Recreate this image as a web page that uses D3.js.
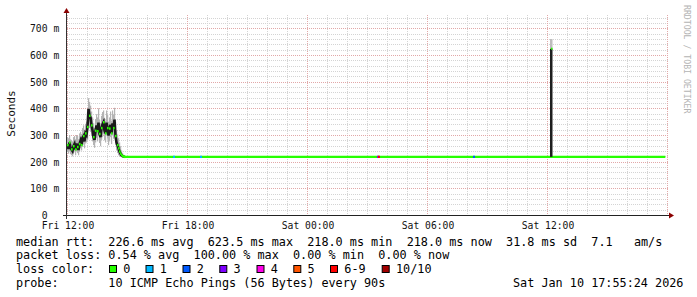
<!DOCTYPE html>
<html><head><meta charset="utf-8">
<script src="https://cdn.jsdelivr.net/npm/d3@7"></script>
<style>
html,body{margin:0;padding:0;background:#fff;}
svg{display:block;}
text{font-family:"DejaVu Sans Mono",monospace;white-space:pre;}
</style></head>
<body>
<svg id="c" width="697" height="297"></svg>
<script>
// ---- data ----
const startLabel = "2026-01-09T12:00";
const endLabel = "2026-01-10T18:00";
const stepMinutes = 3;
// noisy section, one value every 3 minutes from Fri 12:00 (ms)
const rttMedian = [262,248,272,252,246,240,258,266,246,268,255,244,266,278,262,290,296,276,306,300,330,398,372,366,336,318,292,282,316,336,314,346,304,292,326,340,348,316,306,346,326,298,324,338,306,344,326,358,296,272,262,250,238,230,224,221,219,218];
const rttHigh   = [292,288,300,284,280,276,292,296,284,300,296,284,306,312,304,326,336,318,342,350,380,438,424,410,388,366,344,326,360,378,366,400,356,344,372,386,392,362,354,392,376,350,366,388,354,392,376,402,348,318,302,288,272,258,242,232,226,222];
const rttLow    = [236,230,240,228,224,220,232,238,224,238,232,224,238,250,242,256,264,250,268,272,282,338,326,312,296,276,262,252,272,288,276,298,270,258,282,292,302,280,272,298,286,262,276,292,266,298,286,306,262,242,232,224,220,219,218,218,218,218];
// flat section
const flatStart = "2026-01-09T14:51";
const flatEnd = "2026-01-10T17:55";
const flatValue = 218.0;
// spike
const spikeTime = "2026-01-10T12:12";
const spikeMedian = 623.5, spikeLow = 218, spikeHigh = 660;
// loss events on the flat line
const lossTimes = ["2026-01-09T17:21","2026-01-09T18:42","2026-01-10T03:33","2026-01-10T03:36","2026-01-10T08:21"];
const lossCounts = [1,1,3,6,2];
// legend
const lossLabels = ["0","1","2","3","4","5","6-9","10/10"];
const lossColors = ["#26ff00","#00b8ff","#0059ff","#7e00ff","#ff00ea","#ff5500","#ff0000","#a10000"];
const yTicks = [0,100,200,300,400,500,600,700];
const xTickLabels = ["Fri 12:00","Fri 18:00","Sat 00:00","Sat 06:00","Sat 12:00"];
const legendLines = [
 "median rtt:  226.6 ms avg  623.5 ms max  218.0 ms min  218.0 ms now  31.8 ms sd  7.1   am/s",
 "packet loss: 0.54 % avg  100.00 % max  0.00 % min  0.00 % now",
 "loss color:",
 "probe:       10 ICMP Echo Pings (56 Bytes) every 90s"
];
const dateStamp = "Sat Jan 10 17:55:24 2026";

// ---- drawing ----
const svg = d3.select("#c");
const t0 = new Date(startLabel), t1 = new Date(endLabel);
const x = d3.scaleTime().domain([t0,t1]).range([67,667]);
const y = d3.scaleLinear().domain([0,750]).range([215,15]);
const tAt = i => new Date(t0.getTime() + i*stepMinutes*60000);
const lossColor = n => n===0?lossColors[0]:n>=10?lossColors[7]:n>=6?lossColors[6]:lossColors[n];

const grid = svg.append("g");
// minor grid
d3.range(0,750,20).filter(v=>v%100!==0).forEach(v=>{
  grid.append("line").attr("x1",67).attr("x2",668).attr("y1",Math.round(y(v))+0.5).attr("y2",Math.round(y(v))+0.5)
   .attr("stroke","#d4d4d4").attr("stroke-dasharray","1,1");
});
x.ticks(d3.timeHour.every(1)).filter(d=>d.getHours()%6!==0).forEach(d=>{
  grid.append("line").attr("y1",15).attr("y2",215).attr("x1",Math.round(x(d))+0.5).attr("x2",Math.round(x(d))+0.5)
   .attr("stroke","#d4d4d4").attr("stroke-dasharray","1,1");
});
// major grid
yTicks.filter(v=>v>0).forEach(v=>{
  grid.append("line").attr("x1",67).attr("x2",668).attr("y1",Math.round(y(v))+0.5).attr("y2",Math.round(y(v))+0.5)
   .attr("stroke","#e2a8a8").attr("stroke-dasharray","1,1");
});
x.ticks(d3.timeHour.every(6)).forEach(d=>{
  grid.append("line").attr("y1",15).attr("y2",215).attr("x1",Math.round(x(d))+0.5).attr("x2",Math.round(x(d))+0.5)
   .attr("stroke","#e2a8a8").attr("stroke-dasharray","1,1");
});

// smoke, noisy section
const plot = svg.append("g");
rttMedian.forEach((m,i)=>{
  const xx = x(tAt(i));
  plot.append("rect").attr("x",xx).attr("width",1.2).attr("y",y(rttHigh[i])).attr("height",y(rttLow[i])-y(rttHigh[i])).attr("fill","#b4b4b4");
});
plot.append("path").datum(rttMedian).attr("fill","none").attr("stroke","#1a1a1a").attr("stroke-width",2.6)
  .attr("d",d3.line().x((d,i)=>x(tAt(i))+0.5).y(d=>y(d)));
rttMedian.forEach((m,i)=>{
  if(i%2===0 || i>50) plot.append("rect").attr("x",x(tAt(i))).attr("width",1.6).attr("y",y(m)-1.2).attr("height",2.4).attr("fill",lossColors[0]);
});
// flat line
plot.append("line").attr("x1",x(new Date(flatStart))).attr("x2",x(new Date(flatEnd)))
  .attr("y1",y(flatValue)).attr("y2",y(flatValue)).attr("stroke",lossColors[0]).attr("stroke-width",2.2);
// spike
const sx = x(new Date(spikeTime));
plot.append("rect").attr("x",sx-1).attr("width",2.5).attr("y",y(spikeHigh)).attr("height",y(spikeMedian)-y(spikeHigh)).attr("fill","#bdbdbd");
plot.append("rect").attr("x",sx-1).attr("width",2.5).attr("y",y(spikeMedian)).attr("height",y(spikeLow)-y(spikeMedian)).attr("fill","#1e1e1e");
plot.append("rect").attr("x",sx).attr("width",1.5).attr("y",y(spikeMedian)-1).attr("height",2).attr("fill",lossColors[0]);
// loss events
lossTimes.forEach((t,i)=>{
  plot.append("rect").attr("x",x(new Date(t))-1).attr("width",2).attr("y",y(flatValue)-1.1).attr("height",2.2).attr("fill",lossColor(lossCounts[i]));
});

// axes
const ax = svg.append("g");
ax.append("line").attr("x1",63).attr("x2",669).attr("y1",215.5).attr("y2",215.5).attr("stroke","#222");
ax.append("line").attr("x1",66.5).attr("x2",66.5).attr("y1",12).attr("y2",219).attr("stroke","#333");
ax.append("path").attr("d","M669,212.5 L674,215.5 L669,218.5 Z").attr("fill","#8b0000");
ax.append("path").attr("d","M63.5,13 L66.5,8 L69.5,13 Z").attr("fill","#8b0000");
// y labels
yTicks.forEach(v=>{
  const yy = Math.round(y(v))+0.5+3.5;
  ax.append("text").attr("x",47.5).attr("y",yy).attr("text-anchor","end").attr("font-size","9.7px").attr("fill","#111").text(v);
  if(v>0) ax.append("text").attr("x",53.5).attr("y",yy).attr("font-size","9.7px").attr("fill","#111").text("m");
});
// x labels
x.ticks(d3.timeHour.every(6)).forEach((d,i)=>{
  if(i<xTickLabels.length)
  ax.append("text").attr("x",Math.round(x(d))+1).attr("y",228.5).attr("text-anchor","middle").attr("font-size","9.7px").attr("fill","#111").text(xTickLabels[i]);
});
// y title
svg.append("text").attr("transform","translate(14.5,113.5) rotate(-90)").attr("text-anchor","middle").attr("font-size","11px").attr("fill","#111").text("Seconds");
// watermark
svg.append("text").attr("transform","translate(683.5,5) rotate(90)").attr("font-size","8.2px").attr("fill","#b4b4b4").text("RRDTOOL / TOBI OETIKER");

// legend
const lg = svg.append("g").attr("font-size","11.8px").attr("fill","#000");
const rowY = [245.5,259.2,273.4,287.4];
legendLines.forEach((s,i)=>lg.append("text").attr("x",16).attr("y",rowY[i]).text(s));
const sqX = [109,145.5,182.5,219.3,256.5,293.3,330,381.7];
lossLabels.forEach((l,i)=>{
  lg.append("rect").attr("x",sqX[i]+0.5).attr("y",265.5).attr("width",7).attr("height",7).attr("fill",lossColors[i]).attr("stroke","#000");
  lg.append("text").attr("x",sqX[i]+14.3).attr("y",rowY[2]).text(l);
});
lg.append("text").attr("x",513).attr("y",rowY[3]).text(dateStamp);
</script>
</body></html>
